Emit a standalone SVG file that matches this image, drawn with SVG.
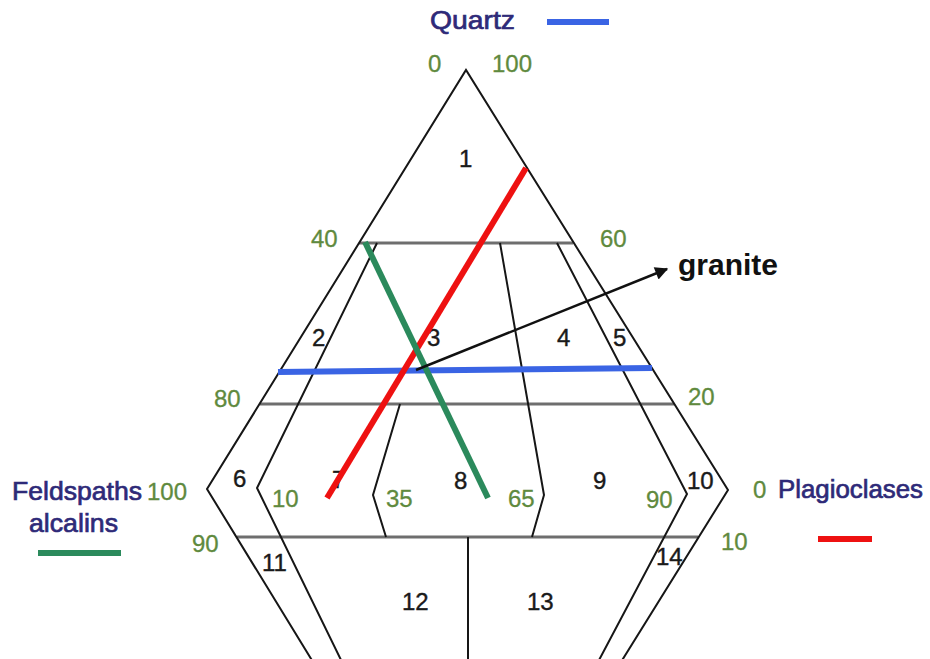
<svg xmlns="http://www.w3.org/2000/svg" width="930" height="659" viewBox="0 0 930 659">
<style>
.edge{fill:none;stroke:#161616;stroke-width:2;stroke-linejoin:miter}
.grid{fill:none;stroke:#6e6e6e;stroke-width:3}
.num{font-family:"Liberation Sans",Arial,sans-serif;font-size:24px;fill:#1a1a1a;stroke:#1a1a1a;stroke-width:0.4}
.tick{font-family:"Liberation Sans",Arial,sans-serif;font-size:24px;fill:#5f8a3e;stroke:#5f8a3e;stroke-width:0.3}
.title{font-family:"Liberation Sans",Arial,sans-serif;font-size:26.5px;fill:#2e2a78;stroke:#2e2a78;stroke-width:0.7}
.qline{stroke:#3a64e4;stroke-width:6;fill:none}
.pline{stroke:#ee1111;stroke-width:6;fill:none}
.aline{stroke:#2b8a5c;stroke-width:6;fill:none}
</style>
<defs>
<marker id="arrow" viewBox="0 0 10 10" refX="9" refY="5" markerWidth="17" markerHeight="13" markerUnits="userSpaceOnUse" orient="auto">
<path d="M0,0 L10,5 L0,10 z" fill="#111"/>
</marker>
</defs>
<rect width="930" height="659" fill="#ffffff"/>
<g id="grid">
<line class="grid" x1="359" y1="243" x2="573" y2="243"/>
<line class="grid" x1="260" y1="404" x2="674" y2="404"/>
<line class="grid" x1="237" y1="537" x2="698" y2="537"/>
</g>
<g id="outline">
<polyline class="edge" points="313,662 207,489 466,70 728,490 621,662"/>
<polyline class="edge" points="342,662 257,488 377,243"/>
<polyline class="edge" points="557,243 687,494 598,662"/>
<polyline class="edge" points="400,404 373,495 386,537"/>
<polyline class="edge" points="500,243 544,495 532,537"/>
<line class="edge" x1="468" y1="537" x2="468" y2="662"/>
</g>
<g id="regions">
<text id="r1" class="num" x="459" y="167">1</text>
<text id="r2" class="num" x="312" y="346">2</text>
<text id="r3" class="num" x="427" y="346">3</text>
<text id="r4" class="num" x="557" y="346">4</text>
<text id="r5" class="num" x="613" y="346">5</text>
<text id="r6" class="num" x="233" y="487">6</text>
<text id="r7" class="num" x="332" y="488">7</text>
<text id="r8" class="num" x="454" y="489">8</text>
<text id="r9" class="num" x="593" y="489">9</text>
<text id="r10" class="num" x="687" y="489">10</text>
<text id="r11" class="num" x="262" y="571">11</text>
<text id="r12" class="num" x="402" y="610">12</text>
<text id="r13" class="num" x="527" y="610">13</text>
<text id="r14" class="num" x="656" y="565">14</text>
</g>
<g id="ticks">
<text class="tick" x="428" y="72">0</text>
<text class="tick" x="492" y="72">100</text>
<text class="tick" x="311" y="247">40</text>
<text class="tick" x="600" y="247">60</text>
<text class="tick" x="214" y="407">80</text>
<text class="tick" x="688" y="405">20</text>
<text class="tick" x="147" y="500">100</text>
<text class="tick" x="272" y="507">10</text>
<text class="tick" x="386" y="507">35</text>
<text class="tick" x="508" y="507">65</text>
<text class="tick" x="646" y="508">90</text>
<text class="tick" x="753" y="498">0</text>
<text class="tick" x="192" y="552">90</text>
<text class="tick" x="721" y="550">10</text>
</g>
<g id="connectors">
<line class="qline" x1="278" y1="372" x2="652" y2="368"/>
<line class="pline" x1="526" y1="168" x2="327" y2="498"/>
<line class="aline" x1="365" y1="242" x2="488" y2="498"/>
<line x1="416" y1="370" x2="667" y2="269" stroke="#111" stroke-width="2.5" marker-end="url(#arrow)"/>
</g>
<g id="legend">
<text class="title" x="430" y="29" textLength="85" lengthAdjust="spacingAndGlyphs">Quartz</text>
<line class="qline" x1="547" y1="22" x2="609" y2="22" stroke-width="7"/>
<text class="title" x="12" y="500" textLength="130" lengthAdjust="spacingAndGlyphs">Feldspaths</text>
<text class="title" x="29" y="532" textLength="89" lengthAdjust="spacingAndGlyphs">alcalins</text>
<line class="aline" x1="38" y1="553" x2="121" y2="553" stroke-width="7"/>
<text class="title" x="778" y="498" textLength="145" lengthAdjust="spacingAndGlyphs">Plagioclases</text>
<line class="pline" x1="818" y1="539" x2="872" y2="539" stroke-width="7"/>
<text id="granite" x="678" y="275" font-family="Liberation Sans,Arial,sans-serif" font-size="30" font-weight="bold" fill="#111">granite</text>
</g>
</svg>
